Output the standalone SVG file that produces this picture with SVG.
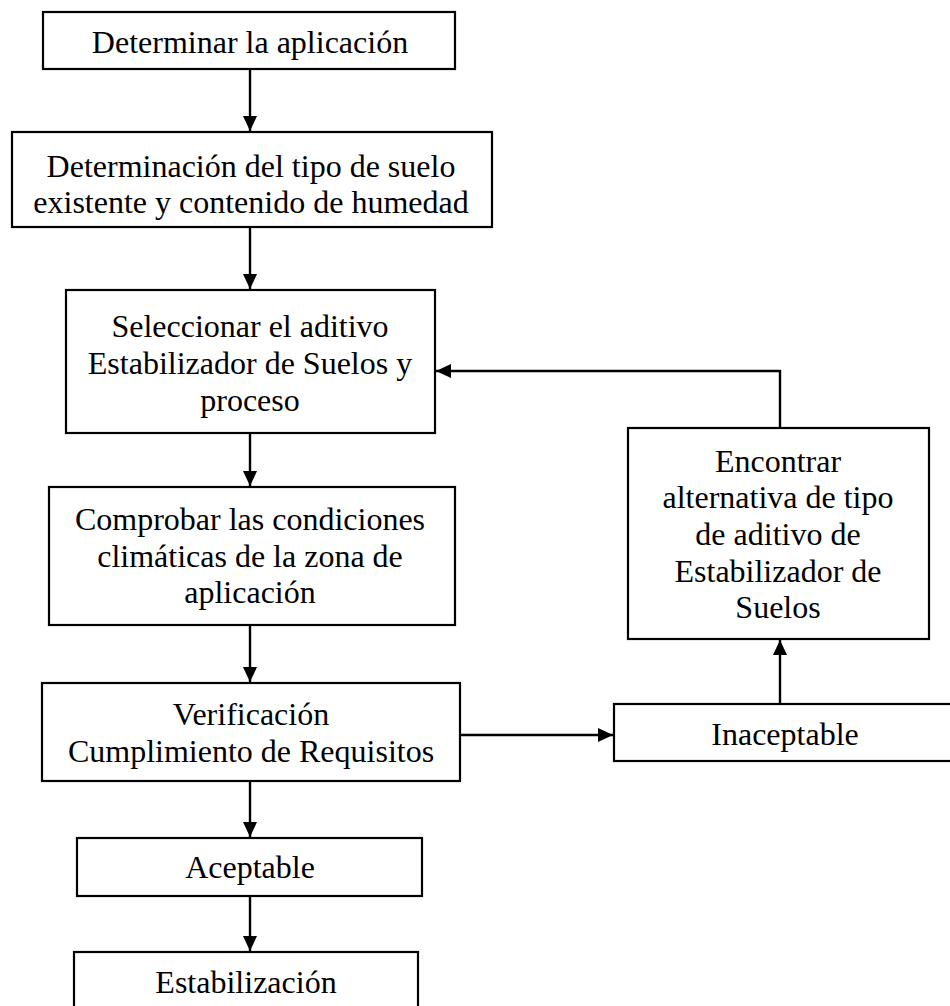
<svg xmlns="http://www.w3.org/2000/svg" width="950" height="1006" viewBox="0 0 950 1006">
<defs>
<style>
.box{fill:#fff;stroke:#000;stroke-width:2.2}
.t{font-family:"Liberation Serif","Times New Roman",serif;font-size:32px;fill:#000;text-anchor:middle}
.c{fill:none;stroke:#000;stroke-width:2.4}
</style>
<marker id="ah" markerUnits="userSpaceOnUse" markerWidth="15" markerHeight="14" refX="15" refY="7" orient="auto">
<path d="M0,0 L15,7 L0,14 z" fill="#000"/>
</marker>
</defs>
<rect width="950" height="1006" fill="#fff"/>
<g id="connectors">
<line class="c" x1="250" y1="70" x2="250" y2="131" marker-end="url(#ah)"/>
<line class="c" x1="250" y1="228" x2="250" y2="289" marker-end="url(#ah)"/>
<line class="c" x1="250" y1="434" x2="250" y2="486" marker-end="url(#ah)"/>
<line class="c" x1="250" y1="626" x2="250" y2="682" marker-end="url(#ah)"/>
<line class="c" x1="250" y1="782" x2="250" y2="837" marker-end="url(#ah)"/>
<line class="c" x1="250" y1="897" x2="250" y2="951" marker-end="url(#ah)"/>
<line class="c" x1="461" y1="735" x2="613" y2="735" marker-end="url(#ah)"/>
<line class="c" x1="780" y1="703" x2="780" y2="640" marker-end="url(#ah)"/>
<polyline class="c" points="780,427 780,371 436,371" marker-end="url(#ah)"/>
</g>
<g id="n1">
<rect class="box" x="43" y="12" width="412" height="57"/>
<text class="t" x="250" y="53">Determinar la aplicación</text>
</g>
<g id="n2">
<rect class="box" x="12" y="132" width="480" height="95"/>
<text class="t" x="251" y="177">Determinación del tipo de suelo</text>
<text class="t" x="251" y="213">existente y contenido de humedad</text>
</g>
<g id="n3">
<rect class="box" x="66" y="290" width="369" height="143"/>
<text class="t" x="250" y="337">Seleccionar el aditivo</text>
<text class="t" x="250" y="374">Estabilizador de Suelos y</text>
<text class="t" x="250" y="411">proceso</text>
</g>
<g id="n4">
<rect class="box" x="49" y="487" width="406" height="138"/>
<text class="t" x="250" y="530">Comprobar las condiciones</text>
<text class="t" x="250" y="567">climáticas de la zona de</text>
<text class="t" x="250" y="603">aplicación</text>
</g>
<g id="n5">
<rect class="box" x="42" y="683" width="418" height="98"/>
<text class="t" x="251" y="725">Verificación</text>
<text class="t" x="251" y="762">Cumplimiento de Requisitos</text>
</g>
<g id="n6">
<rect class="box" x="77" y="838" width="345" height="58"/>
<text class="t" x="250" y="878">Aceptable</text>
</g>
<g id="n7">
<rect class="box" x="74" y="952" width="344" height="70"/>
<text class="t" x="246" y="993">Estabilización</text>
</g>
<g id="n8">
<rect class="box" x="628" y="428" width="301" height="211"/>
<text class="t" x="778" y="472">Encontrar</text>
<text class="t" x="778" y="508">alternativa de tipo</text>
<text class="t" x="778" y="545">de aditivo de</text>
<text class="t" x="778" y="582">Estabilizador de</text>
<text class="t" x="778" y="618">Suelos</text>
</g>
<g id="n9">
<rect class="box" x="614" y="704" width="344" height="57"/>
<text class="t" x="785" y="745">Inaceptable</text>
</g>
</svg>
